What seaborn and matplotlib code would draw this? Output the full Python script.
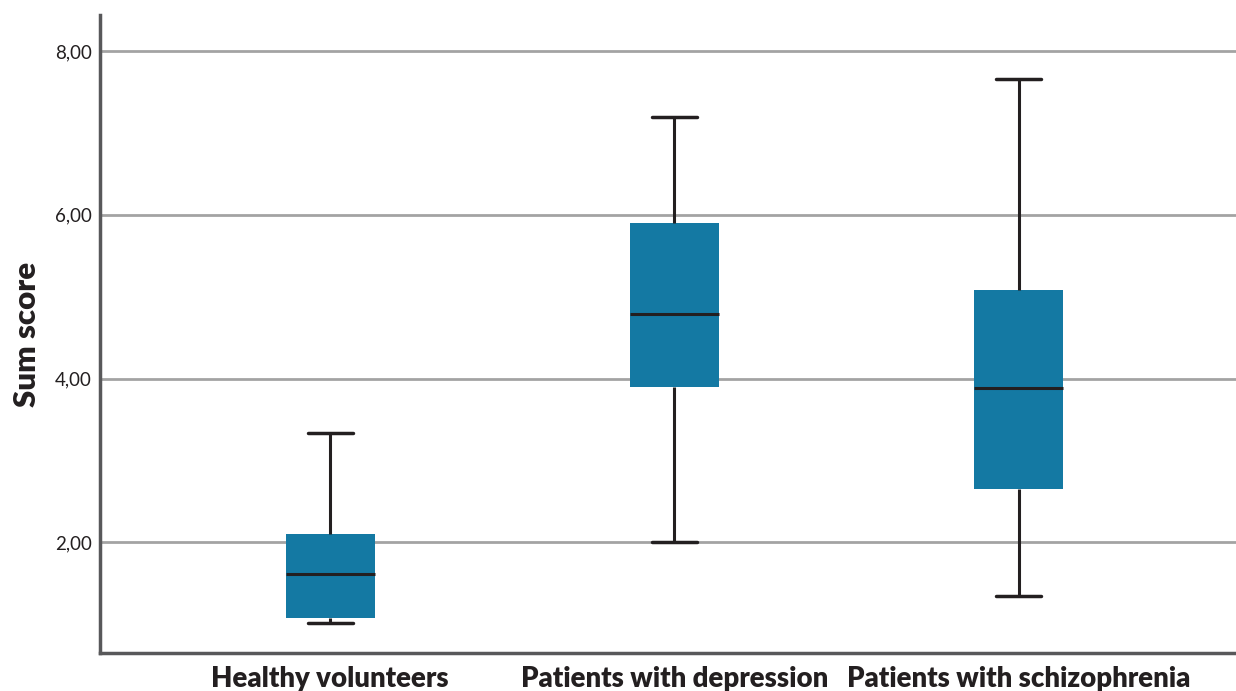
import numpy as np
import pandas as pd
import matplotlib
matplotlib.use('Agg')
import matplotlib.pyplot as plt
from matplotlib.ticker import FuncFormatter
import seaborn as sns

# ── Data (five-number summaries) ──────────────────────────────────────────────
GROUPS    = ['Healthy volunteers', 'Patients with depression', 'Patients with schizophrenia']
WHIS_LOW  = [1.01, 2.00, 1.34]
Q1        = [1.07, 3.90, 2.65]
MEDIAN    = [1.61, 4.79, 3.89]
Q3        = [2.10, 5.90, 5.08]
WHIS_HIGH = [3.34, 7.19, 7.66]
Y_TICKS   = [2, 4, 6, 8]

BOX_COLOR   = '#1479a3'
LINE_COLOR  = '#231f20'
GRID_COLOR  = '#a3a3a3'
SPINE_COLOR = '#58585a'

# 5 points per group -> linear percentiles hit q1/median/q3 exactly
rows = []
for g, lo, a, m, b, hi in zip(GROUPS, WHIS_LOW, Q1, MEDIAN, Q3, WHIS_HIGH):
    for v in (lo, a, m, b, hi):
        rows.append({'group': g, 'score': v})
df = pd.DataFrame(rows)

sns.set_style('white')
plt.rcParams['font.family'] = ['Lato', 'DejaVu Sans']

fig = plt.figure(figsize=(12.36, 6.91), dpi=100)
ax = fig.add_axes([100 / 1236, 38 / 691, 1 - 100 / 1236, 638 / 691])

sns.boxplot(data=df, x='group', y='score', order=GROUPS, color=BOX_COLOR,
            saturation=1, width=0.259, whis=(0, 100), fliersize=0,
            linecolor=LINE_COLOR, linewidth=2.2,
            boxprops=dict(edgecolor=BOX_COLOR, linewidth=0),
            medianprops=dict(color=LINE_COLOR, linewidth=2.2),
            whiskerprops=dict(color=LINE_COLOR, linewidth=2.2),
            capprops=dict(color=LINE_COLOR, linewidth=2.5),
            ax=ax)

ax.set_xlim(-0.669, 2.632)
ax.set_ylim(0.648, 8.44)
ax.set_yticks(Y_TICKS)
ax.yaxis.set_major_formatter(FuncFormatter(lambda v, _: f'{v:.2f}'.replace('.', ',')))
ax.yaxis.grid(True, color=GRID_COLOR, linewidth=2)
ax.set_axisbelow(True)

for side in ('top', 'right'):
    ax.spines[side].set_visible(False)
for side in ('left', 'bottom'):
    ax.spines[side].set_color(SPINE_COLOR)
    ax.spines[side].set_linewidth(2.5)

ax.tick_params(axis='y', length=0, pad=6, labelsize=13.5, labelcolor=LINE_COLOR)
ax.tick_params(axis='x', length=0, pad=9, labelsize=19.8, labelcolor=LINE_COLOR)
for lbl in ax.get_xticklabels():
    lbl.set_fontweight('heavy')

ax.set_xlabel('')
ax.set_ylabel('Sum score', fontsize=22.5, fontweight='heavy', color=LINE_COLOR)
ax.yaxis.set_label_coords(-0.052, 0.5)

fig.savefig('out.png', dpi=100)
